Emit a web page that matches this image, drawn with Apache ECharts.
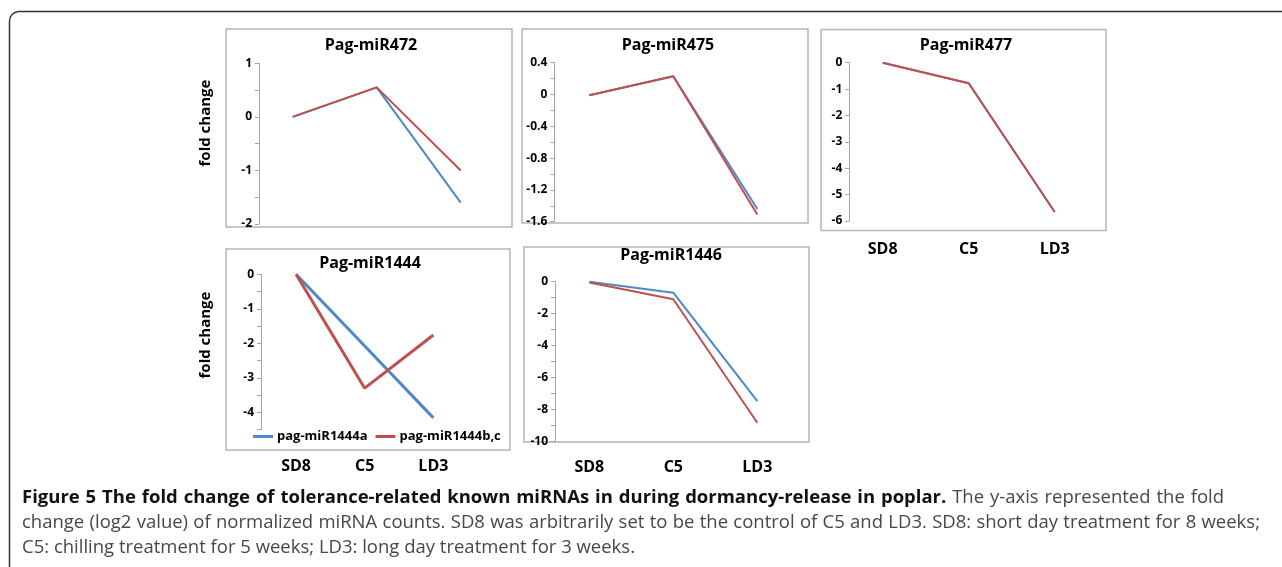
<!DOCTYPE html>
<html>
<head>
<meta charset="utf-8">
<title>Figure 5 fold change</title>
<script src="https://cdn.jsdelivr.net/npm/echarts@6/dist/echarts.min.js"></script>
<style>
html, body { margin: 0; padding: 0; background: #fff; }
#chart { width: 1282px; height: 567px; }
</style>
</head>
<body>
<div id="chart"></div>
<script>
// 横轴
const stages = ['SD8', 'C5', 'LD3']

// Pag-miR472
const miR472Blue = [0, 0.55, -1.6]
const miR472Red = [0, 0.55, -1.0]
const miR472Ticks = [-2, -1, 0, 1]
// Pag-miR475
const miR475Blue = [-0.01, 0.23, -1.44]
const miR475Red = [-0.01, 0.23, -1.51]
const miR475Ticks = [-1.6, -1.2, -0.8, -0.4, 0, 0.4]
// Pag-miR477
const miR477Blue = [0, -0.78, -5.66]
const miR477Red = [0, -0.78, -5.66]
const miR477Ticks = [-6, -5, -4, -3, -2, -1, 0]
// Pag-miR1444 (axis runs down to -4.5)
const miR1444a = [0, -2.08, -4.16]
const miR1444bc = [0, -3.3, -1.76]
const miR1444Ticks = [-4, -3, -2, -1, 0]
const miR1444Min = -4.5
// Pag-miR1446
const miR1446Blue = [0, -0.69, -7.48]
const miR1446Red = [-0.05, -1.1, -8.84]
const miR1446Ticks = [-10, -8, -6, -4, -2, 0]

const legendNames = ['pag-miR1444a', 'pag-miR1444b,c']

const captionBold = 'Figure 5 The fold change of tolerance-related known miRNAs in during dormancy-release in poplar.'
const captionLines = [
  'The y-axis represented the fold',
  'change (log2 value) of normalized miRNA counts. SD8 was arbitrarily set to be the control of C5 and LD3. SD8: short day treatment for 8 weeks;',
  'C5: chilling treatment for 5 weeks; LD3: long day treatment for 3 weeks.'
]

const BLUE = '#4f88c8'
const RED = '#c0504d'
const AXIS = '#a6a6a6'
const FONT = '"Open Sans", "Liberation Sans", sans-serif'

// 面板布局
const panels = [
  { title: 'Pag-miR472', box: [226, 29, 286, 198], titleXY: [371, 45],
    grid: { left: 250.7, top: 63.3, width: 252, height: 160.7 }, axisX: 259,
    ticks: miR472Ticks, min: -2, step: 1, minor: true, blue: miR472Blue, red: miR472Red, width: 2 },
  { title: 'Pag-miR475', box: [522, 29, 286, 194], titleXY: [668, 45],
    grid: { left: 547.3, top: 62.7, width: 252, height: 159 }, axisX: 554.3,
    ticks: miR475Ticks, min: -1.6, step: 0.4, minor: true, blue: miR475Blue, red: miR475Red, width: 2 },
  { title: 'Pag-miR477', box: [821, 29.5, 285, 201], titleXY: [966, 45],
    grid: { left: 839.7, top: 62.7, width: 258, height: 158.3 }, axisX: 849.3,
    ticks: miR477Ticks, min: -6, step: 1, minor: false, blue: miR477Blue, red: miR477Red, width: 2,
    labelMargin: 20 },
  { title: 'Pag-miR1444', box: [226, 249, 284, 201], titleXY: [370, 263],
    grid: { left: 261.7, top: 274.3, width: 206, height: 155.3 }, axisX: 261,
    ticks: miR1444Ticks, min: miR1444Min, step: 0.5, minor: false, blue: miR1444a, red: miR1444bc, width: 3,
    labelMargin: 29, names: legendNames },
  { title: 'Pag-miR1446', box: [524, 247, 285, 195], titleXY: [671, 255],
    grid: { left: 547.3, top: 281.7, width: 252, height: 159.6 }, axisX: 555,
    ticks: miR1446Ticks, min: -10, step: 2, minor: true, blue: miR1446Blue, red: miR1446Red, width: 2,
    labelMargin: 18 }
]

const chart = echarts.init(document.getElementById('chart'))

const measure = (text, font) => {
  const ctx = document.createElement('canvas').getContext('2d')
  ctx.font = font
  return ctx.measureText(text).width
}

const grid = panels.map(p => p.grid)

const xAxis = panels.map((p, i) => ({
  type: 'category',
  gridIndex: i,
  data: stages,
  boundaryGap: true,
  axisLine: { show: false, onZero: false },
  axisTick: { show: false },
  axisLabel: {
    show: p.labelMargin !== undefined,
    margin: p.labelMargin || 8,
    fontFamily: FONT,
    fontWeight: 'bold',
    fontSize: 16,
    color: '#000'
  }
}))

const yAxis = panels.map((p, i) => ({
  type: 'value',
  gridIndex: i,
  min: p.min,
  max: p.ticks[p.ticks.length - 1],
  interval: p.step,
  offset: p.grid.left - p.axisX,
  axisLine: { show: true, lineStyle: { color: AXIS, width: 1 } },
  axisTick: { show: true, length: 4, lineStyle: { color: AXIS } },
  minorTick: { show: p.minor, splitNumber: 2, length: 4, lineStyle: { color: AXIS } },
  splitLine: { show: false },
  axisLabel: {
    margin: 7,
    fontFamily: FONT,
    fontWeight: 'bold',
    fontSize: 12,
    color: '#000',
    formatter: v => {
      const hit = p.ticks.find(t => Math.abs(t - v) < 1e-6)
      return hit === undefined ? '' : String(hit)
    }
  }
}))

const series = []
panels.forEach((p, i) => {
  const names = p.names || [p.title + ' a', p.title + ' b']
  series.push({
    name: names[0], type: 'line', xAxisIndex: i, yAxisIndex: i, data: p.blue,
    symbol: 'none', lineStyle: { color: BLUE, width: p.width }, itemStyle: { color: BLUE }
  })
  series.push({
    name: names[1], type: 'line', xAxisIndex: i, yAxisIndex: i, data: p.red,
    symbol: 'none', lineStyle: { color: RED, width: p.width }, itemStyle: { color: RED }
  })
})

// 外框（左上圆角）
const frameStyle = { fill: 'none', stroke: '#333', lineWidth: 1.5 }
const graphic = [
  { type: 'line', shape: { x1: 9.5, y1: 567, x2: 9.5, y2: 21 }, style: frameStyle },
  { type: 'arc', shape: { cx: 19, cy: 21, r: 9.5, startAngle: Math.PI, endAngle: Math.PI * 1.5, clockwise: true }, style: frameStyle },
  { type: 'line', shape: { x1: 19, y1: 11.5, x2: 1282, y2: 11.5 }, style: frameStyle }
]
panels.forEach(p => {
  graphic.push({
    type: 'rect', z: -1,
    shape: { x: p.box[0], y: p.box[1], width: p.box[2], height: p.box[3] },
    style: { fill: 'none', stroke: '#b5b5b5', lineWidth: 1.5 }
  })
  graphic.push({
    type: 'text', x: p.titleXY[0], y: p.titleXY[1],
    style: { text: p.title, fill: '#000', font: 'bold 16px ' + FONT, align: 'center', verticalAlign: 'middle' }
  })
})
;[[206, 123], [206, 335]].forEach(([x, y]) => {
  graphic.push({
    type: 'text', x, y, rotation: Math.PI / 2,
    style: { text: 'fold change', fill: '#000', font: 'bold 15px ' + FONT, align: 'center', verticalAlign: 'middle' }
  })
})

// 图注：两端对齐，最后一行左对齐
const capSize = 17.5
const normalFont = capSize + 'px ' + FONT
const boldFont = 'bold ' + capSize + 'px ' + FONT
const capScale = 613 / measure(captionLines[2], normalFont)

const placeLine = (parts, y, right) => {
  const words = []
  parts.forEach(([text, bold]) => text.split(' ').forEach(w => words.push({ w, bold })))
  const widths = words.map(o => measure(o.w, o.bold ? boldFont : normalFont) * capScale)
  const total = widths.reduce((a, b) => a + b, 0)
  const gap = right ? (right - 22 - total) / (words.length - 1) : measure(' ', normalFont) * capScale
  let x = 22
  words.forEach((o, k) => {
    graphic.push({
      type: 'text', x, y, scaleX: capScale,
      style: { text: o.w, font: o.bold ? boldFont : normalFont, fill: o.bold ? '#111' : '#474747', verticalAlign: 'middle' }
    })
    x += widths[k] + gap
  })
}
placeLine([[captionBold, true], [captionLines[0], false]], 498, 1224)
placeLine([[captionLines[1], false]], 523, 1260)
placeLine([[captionLines[2], false]], 548, 0)

const option = {
  animation: false,
  grid,
  xAxis,
  yAxis,
  series,
  legend: {
    data: legendNames,
    left: 253,
    top: 430,
    padding: 0,
    icon: 'rect',
    itemWidth: 20,
    itemHeight: 3,
    itemGap: 8,
    textStyle: { fontFamily: FONT, fontWeight: 'bold', fontSize: 13, color: '#000', padding: [0, 0, 0, -1] }
  },
  graphic
}

chart.setOption(option)
</script>
</body>
</html>
